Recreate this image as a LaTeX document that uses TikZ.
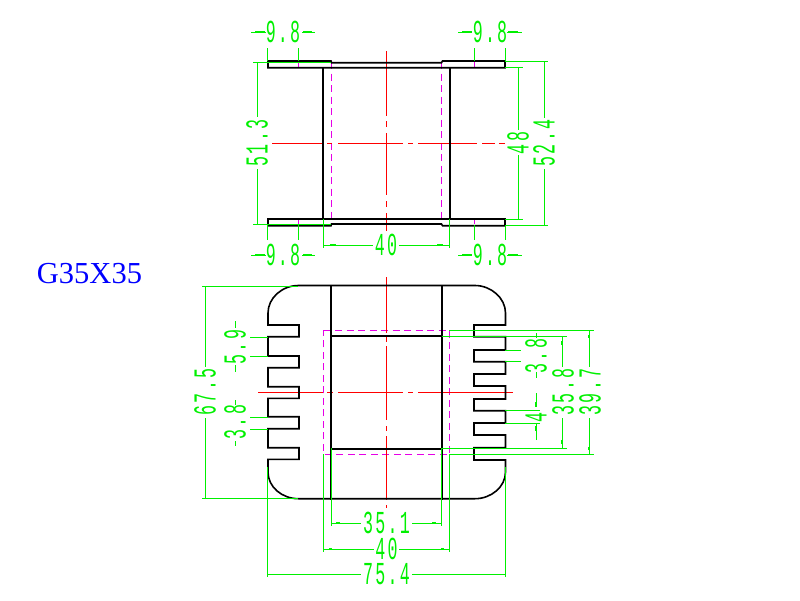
\documentclass[tikz,border=0pt]{standalone}
\usepackage{fontspec}
\newfontfamily\cadfont[FakeStretch=0.52,LetterSpace=7]{Liberation Mono}
\setmainfont{Liberation Serif}
\definecolor{dimgreen}{RGB}{0,240,0}
\definecolor{cadmag}{RGB}{230,0,230}
\definecolor{cadred}{RGB}{255,0,0}
\definecolor{cadblue}{RGB}{0,0,255}
\tikzset{
  x=1pt,y=-1pt,
  part/.style={draw=black,line width=1.6pt,line join=miter,line cap=rect},
  dimline/.style={draw=dimgreen,line width=1pt},
  tick/.style={draw=dimgreen,line width=1.8pt},
  axis/.style={draw=cadred,line width=1pt},
  hidden/.style={draw=cadmag,line width=1pt,dash pattern=on 7pt off 4.5pt},
  dimtext/.style={text=dimgreen,font=\cadfont\fontsize{32}{32}\selectfont,inner sep=0pt,anchor=center},
  title/.style={text=cadblue,font=\fontsize{30.5}{30.5}\selectfont,inner sep=0pt,anchor=center}
}
\begin{document}
\begin{tikzpicture}
\useasboundingbox[fill=white] (0,0) rectangle (800,600);
% hidden lines
\draw[hidden] (331.5,62)--(331.5,225);
\draw[hidden] (441.5,62)--(441.5,225);
\draw[draw=cadmag,line width=1pt] (298.5,62)--(298.5,67) (474.5,62)--(474.5,67) (298.5,219)--(298.5,224) (474.5,219)--(474.5,224);
\draw[hidden] (323.5,330.3)--(449.5,330.3)--(449.5,454.3)--(323.5,454.3)--cycle;
% axes top
\draw[axis] (386,51)--(386,115.7) (386,121)--(386,127) (386,133)--(386,195) (386,201)--(386,207) (386,213)--(386,231);
\draw[axis] (272,143.5)--(323,143.5) (327,143.5)--(332,143.5) (338,143.5)--(403,143.5) (408,143.5)--(413,143.5) (418,143.5)--(477,143.5) (482,143.5)--(495,143.5) (499,143.5)--(505,143.5);
% axes bottom
\draw[axis] (386.5,277)--(386.5,333) (386.5,337)--(386.5,342) (386.5,346)--(386.5,420) (386.5,426)--(386.5,431) (386.5,436)--(386.5,500) (386.5,505)--(386.5,507.5);
\draw[axis] (258,392.5)--(323,392.5) (327,392.5)--(333,392.5) (338,392.5)--(403,392.5) (408,392.5)--(413,392.5) (418,392.5)--(513,392.5);
% top view
\draw[part] (323,67.7)--(323,219) (450,67.7)--(450,219);
\draw[part] (268,61)--(331,61)--(331.5,62.7)--(441.5,62.7)--(442.5,61)--(505,61)--(505,67.7)--(268,67.7)--cycle;
\draw[part] (268,219)--(505,219)--(505,225.7)--(442.5,225.7)--(441.5,224)--(331.5,224)--(331,225.7)--(268,225.7)--cycle;
% bottom view
\draw[part] (298.5,285.5)--(475,285.5) .. controls (491,285.5) and (505.5,298) .. (505.5,313)
 --(505.5,325)--(474,325)--(474,336.7)--(505.5,336.7)--(505.5,350)--(474,350)--(474,361.7)--(505.5,361.7)
 --(505.5,374)--(474,374)--(474,386)--(505.5,386)--(505.5,399)--(474,399)--(474,410.7)--(505.5,410.7)
 --(505.5,423)--(474,423)--(474,435)--(505.5,435)--(505.5,447.7)--(474,447.7)--(474,460)--(505.5,460)--(505.5,472)
 .. controls (505.5,487) and (491,498.7) .. (475,498.7)--(298.5,498.7)
 .. controls (282,498.7) and (268,487) .. (268,472)
 --(268,459.3)--(299,459.3)--(299,447.7)--(268,447.7)--(268,428.7)--(299,428.7)--(299,416.7)--(268,416.7)
 --(268,398.3)--(299,398.3)--(299,386.7)--(268,386.7)--(268,367.7)--(299,367.7)--(299,356)--(268,356)
 --(268,336.7)--(299,336.7)--(299,325)--(268,325)--(268,313)
 .. controls (268,298) and (282,285.5) .. cycle;
\draw[part] (331,285.5)--(331,498.7) (442,285.5)--(442,498.7) (331,336)--(442,336) (331,448.7)--(442,448.7);
% ===== dimensions top view
\draw[dimline] (267.5,48)--(267.5,61) (298.5,48)--(298.5,61) (474.5,48)--(474.5,61) (505.5,48)--(505.5,61);
\draw[dimline] (251,32)--(266,32) (302,32)--(315,32) (458,32)--(472,32) (507,32)--(522,32);
\draw[tick] (255,32)--(265,32) (303,32)--(312,32) (462,32)--(472,32) (508,32)--(518,32);
\draw[dimline] (267.5,225)--(267.5,240) (298.5,225)--(298.5,240) (474.5,225)--(474.5,240) (505.5,225)--(505.5,240);
\draw[dimline] (251,255)--(266,255) (302,255)--(315,255) (458,255)--(472,255) (507,255)--(522,255);
\draw[tick] (255,255)--(265,255) (303,255)--(312,255) (462,255)--(472,255) (508,255)--(518,255);
\node[dimtext] (a1) at (283,32) {9.8};
\node[dimtext] (a2) at (490,32) {9.8};
\node[dimtext] (a3) at (283,255) {9.8};
\node[dimtext] (a4) at (490,255) {9.8};
\draw[dimline] (253,62.3)--(331,62.3) (253,224.5)--(331,224.5);
\draw[dimline] (257.5,62)--(257.5,117) (257.5,169)--(257.5,224.5);
\draw[tick] (257.5,67)--(257.5,74) (257.5,213)--(257.5,220);
\node[dimtext,rotate=90] (a5) at (257,143) {51.3};
\draw[dimline] (505,67.7)--(523,67.7) (505,219)--(523,219);
\draw[dimline] (518.5,67.7)--(518.5,130) (518.5,155)--(518.5,219);
\draw[tick] (518.5,74)--(518.5,80) (518.5,206)--(518.5,212);
\node[dimtext,rotate=90] (a6) at (518,143) {48};
\draw[dimline] (505,61.3)--(548,61.3) (505,225.3)--(548,225.3);
\draw[dimline] (544.5,61.3)--(544.5,117.7) (544.5,169)--(544.5,225.3);
\draw[tick] (544.5,66)--(544.5,73) (544.5,213)--(544.5,220);
\node[dimtext,rotate=90] (a7) at (544,143) {52.4};
\draw[dimline] (323.3,219)--(323.3,248) (449.5,219)--(449.5,248);
\draw[dimline] (323.3,245)--(373,245) (399,245)--(449.5,245);
\draw[tick] (330,245)--(336,245) (437,245)--(443,245);
\node[dimtext] (a8) at (386,245) {40};
% ===== dimensions bottom view
\draw[dimline] (202,286)--(298,286) (202,498.5)--(298,498.5);
\draw[dimline] (205.5,286)--(205.5,366.7) (205.5,418)--(205.5,498.5);
\draw[tick] (205.5,291)--(205.5,295) (205.5,489)--(205.5,493);
\node[dimtext,rotate=90] (b1) at (205,392) {67.5};
\draw[dimline] (250,337)--(268,337) (250,356)--(268,356) (250,417.3)--(268,417.3) (250,429)--(268,429);
\draw[dimline] (235.5,321)--(235.5,328) (235.5,365)--(235.5,372) (235.5,400)--(235.5,405) (235.5,441)--(235.5,446);
\node[dimtext,rotate=90] (b2) at (235,347) {5.9};
\node[dimtext,rotate=90] (b3) at (235,422) {3.8};
\draw[dimline] (442,336.3)--(567,336.3) (442,448.7)--(567,448.7);
\draw[dimline] (449,330.3)--(594,330.3) (449,454.3)--(594,454.3);
\draw[dimline] (589.3,330.3)--(589.3,367) (589.3,418)--(589.3,454.3);
\draw[dimline] (562.3,336.3)--(562.3,367) (562.3,418)--(562.3,448.7);
\draw[tick] (589.3,335)--(589.3,338) (589.3,447)--(589.3,450) (562.3,341)--(562.3,345) (562.3,440)--(562.3,444);
\node[dimtext,rotate=90] (b4) at (590,392) {39.7};
\node[dimtext,rotate=90] (b5) at (563,392) {35.8};
\draw[dimline] (505,350)--(521,350) (505,361.3)--(521,361.3);
\draw[dimline] (536,333)--(536,338) (536,372)--(536,378);
\node[dimtext,rotate=90] (b6) at (536,356) {3.8};
\draw[dimline] (505,410.3)--(540,410.3) (505,423.3)--(540,423.3);
\draw[dimline] (536,393)--(536,407) (536,424)--(536,440);
\draw[tick] (536,402)--(536,407) (536,426)--(536,431);
\node[dimtext,rotate=90] (b7) at (536,417) {4};
\draw[dimline] (267.5,467)--(267.5,577) (505.5,467)--(505.5,577);
\draw[dimline] (323.3,454)--(323.3,552) (449.3,454)--(449.3,552);
\draw[dimline] (331.3,448)--(331.3,526) (441.7,448)--(441.7,526);
\draw[dimline] (331.3,523.3)--(361,523.3) (412,523.3)--(441.7,523.3);
\draw[tick] (336,523.3)--(340,523.3) (432,523.3)--(436,523.3);
\node[dimtext] (b8) at (386.5,523) {35.1};
\draw[dimline] (323.3,549.3)--(374,549.3) (399,549.3)--(449.3,549.3);
\draw[tick] (329,549.3)--(332,549.3) (441,549.3)--(444,549.3);
\node[dimtext] (b9) at (386.5,549) {40};
\draw[dimline] (267.5,574.3)--(361,574.3) (412,574.3)--(505.5,574.3);
\node[dimtext] (b10) at (386.5,574) {75.4};
\node[title] (t) at (89.5,273.5) {G35X35};
\end{tikzpicture}
\end{document}
